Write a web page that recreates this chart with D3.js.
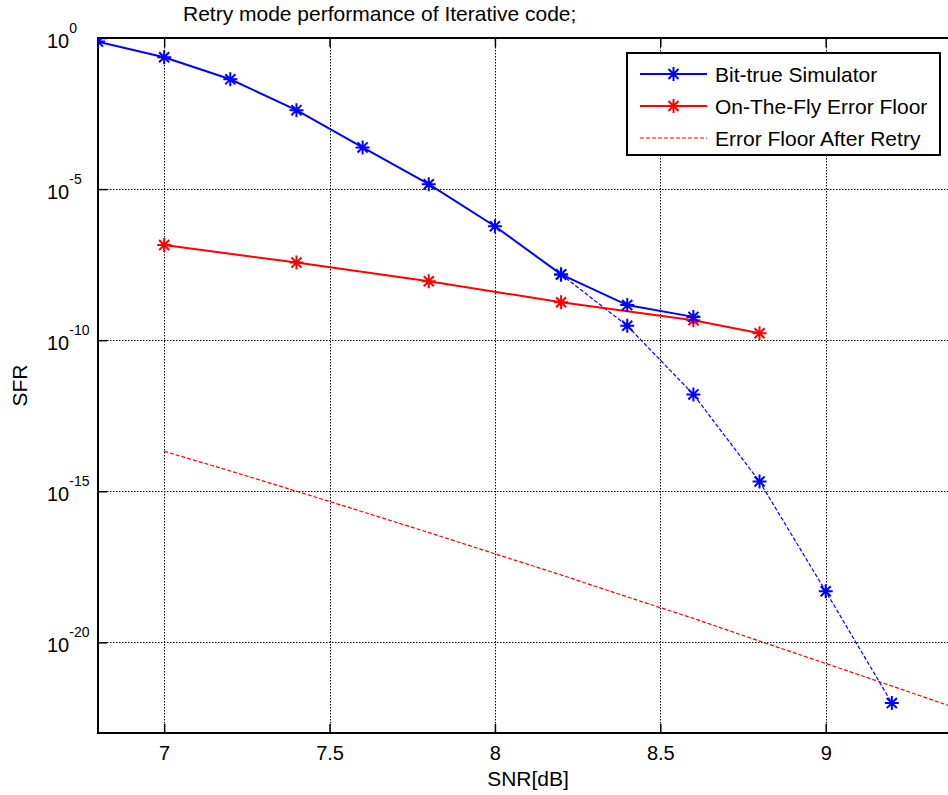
<!DOCTYPE html>
<html>
<head>
<meta charset="utf-8">
<script src="https://cdn.jsdelivr.net/npm/d3@7/dist/d3.min.js"></script>
<style>
  body { margin: 0; background: #fff; }
  svg { display: block; font-family: "Liberation Sans", Arial, sans-serif; }
</style>
</head>
<body>
<svg id="chart" width="948" height="795"></svg>
<script>
// ---- data ----
const bitTrueX = [6.8, 7.0, 7.2, 7.4, 7.6, 7.8, 8.0, 8.2, 8.4, 8.6];
const bitTrueY = [0.76, 0.23, 0.043, 4.1e-3, 2.4e-4, 1.45e-5, 5.9e-7, 1.5e-8, 1.45e-9, 5.9e-10];

const bitTrueExtX = [8.2, 8.4, 8.6, 8.8, 9.0, 9.2];
const bitTrueExtY = [1.5e-8, 3.0e-10, 1.6e-12, 2.1e-15, 4.9e-19, 9.8e-23];

const otfX = [7.0, 7.4, 7.8, 8.2, 8.6, 8.8];
const otfY = [1.4e-7, 3.7e-8, 8.9e-9, 1.8e-9, 4.6e-10, 1.7e-10];

const retryX = [7.0, 7.2, 7.4, 7.6, 7.8, 8.0, 8.2, 8.4, 8.6, 8.8, 9.0, 9.2, 9.4];
const retryY = [2.1e-14, 4.7e-15, 1.0e-15, 2.1e-16, 4.3e-17, 8.5e-18, 1.7e-18, 3.2e-19, 6.2e-20, 1.1e-20, 2.0e-21, 3.6e-22, 6.3e-23];

const xTicks = [7, 7.5, 8, 8.5, 9];
const yTickExps = [0, -5, -10, -15, -20];
const legendLabels = ["Bit-true Simulator", "On-The-Fly Error Floor", "Error Floor After Retry"];
const titleText = "Retry mode performance of Iterative code;";
const xLabel = "SNR[dB]";
const yLabel = "SFR";

// ---- layout ----
const L = 98, R = 958, T = 38, B = 733;
const svg = d3.select("#chart");
const x = d3.scaleLinear().domain([6.8, 9.4]).range([L, R]);
const y = d3.scaleLog().domain([1e-23, 1]).range([B, T]);

// clip
svg.append("defs").append("clipPath").attr("id", "clip")
  .append("rect").attr("x", L).attr("y", T).attr("width", R - L).attr("height", B - T);

// grid
const grid = svg.append("g").attr("stroke", "#000").attr("stroke-width", 1).attr("stroke-dasharray", "1.5,1.5");
grid.selectAll("line.vx").data(xTicks).join("line")
  .attr("x1", d => Math.round(x(d)) + 0.5).attr("x2", d => Math.round(x(d)) + 0.5)
  .attr("y1", T).attr("y2", B);
grid.selectAll("line.hy").data(yTickExps).join("line")
  .attr("y1", d => Math.round(y(Math.pow(10, d))) + 0.5).attr("y2", d => Math.round(y(Math.pow(10, d))) + 0.5)
  .attr("x1", L).attr("x2", R);

// axes via d3
const xAxisB = d3.axisBottom(x).tickValues(xTicks).tickSize(-9).tickFormat(d => d3.format("")(d)).tickPadding(0);
const gxb = svg.append("g").attr("transform", `translate(0,${B})`).call(xAxisB);
gxb.select(".domain").remove();
gxb.selectAll(".tick line").attr("stroke", "#000").attr("stroke-width", 1.5);
gxb.selectAll(".tick text").attr("font-size", 20).attr("fill", "#000").attr("y", 27).attr("dy", 0);

const xAxisT = d3.axisTop(x).tickValues(xTicks).tickSize(-9).tickFormat("");
const gxt = svg.append("g").attr("transform", `translate(0,${T})`).call(xAxisT);
gxt.select(".domain").remove();
gxt.selectAll(".tick line").attr("stroke", "#000").attr("stroke-width", 1.5);

const yAxis = d3.axisLeft(y).tickValues(yTickExps.map(e => Math.pow(10, e))).tickSize(-9).tickFormat("");
const gy = svg.append("g").attr("transform", `translate(${L},0)`).call(yAxis);
gy.select(".domain").remove();
gy.selectAll(".tick line").attr("stroke", "#000").attr("stroke-width", 1.5);

// y tick labels 10^n
const yl = svg.append("g").attr("font-size", 20).attr("fill", "#000");
yTickExps.forEach(e => {
  const yy = y(Math.pow(10, e));
  const t = yl.append("text").attr("x", 47).attr("y", yy + 10);
  t.append("tspan").text("10");
  t.append("tspan").attr("font-size", 14).attr("dy", -15).text(String(e));
});

// frame lines (left, bottom, top)
const frame = svg.append("g").attr("stroke", "#000").attr("stroke-width", 2).attr("fill", "none");
frame.append("line").attr("x1", L).attr("x2", L).attr("y1", T - 1).attr("y2", B + 1);
frame.append("line").attr("x1", L - 1).attr("x2", R).attr("y1", B).attr("y2", B);
frame.append("line").attr("x1", L - 1).attr("x2", R).attr("y1", T).attr("y2", T);

// series
const line = d3.line().x(d => x(d[0])).y(d => y(d[1]));
const plot = svg.append("g").attr("clip-path", "url(#clip)");
const zip = (a, b) => a.map((v, i) => [v, b[i]]);

function starPath(cx, cy, r) {
  const d = r * 0.72;
  return `M${cx - r},${cy}L${cx + r},${cy}M${cx},${cy - r}L${cx},${cy + r}` +
    `M${cx - d},${cy - d}L${cx + d},${cy + d}M${cx - d},${cy + d}L${cx + d},${cy - d}`;
}
function asterisk(g, pts, color, r) {
  const s = g.append("g").attr("stroke", color).attr("stroke-width", 2);
  pts.forEach(p => s.append("path").attr("d", starPath(x(p[0]), y(p[1]), r)));
}

plot.append("path").datum(zip(retryX, retryY)).attr("d", line)
  .attr("fill", "none").attr("stroke", "#ff0000").attr("stroke-width", 1.2).attr("stroke-dasharray", "4,2");

plot.append("path").datum(zip(bitTrueExtX, bitTrueExtY)).attr("d", line)
  .attr("fill", "none").attr("stroke", "#0000ff").attr("stroke-width", 1.2).attr("stroke-dasharray", "4,2");
asterisk(plot, zip(bitTrueExtX, bitTrueExtY), "#0000ff", 7);

plot.append("path").datum(zip(otfX, otfY)).attr("d", line)
  .attr("fill", "none").attr("stroke", "#ff0000").attr("stroke-width", 2);
asterisk(plot, zip(otfX, otfY), "#ff0000", 7);

plot.append("path").datum(zip(bitTrueX, bitTrueY)).attr("d", line)
  .attr("fill", "none").attr("stroke", "#0000ff").attr("stroke-width", 2);
asterisk(plot, zip(bitTrueX, bitTrueY), "#0000ff", 7);

// title and axis labels
svg.append("text").attr("x", 183).attr("y", 21).attr("font-size", 21).attr("fill", "#000").text(titleText);
svg.append("text").attr("x", (L + R) / 2).attr("y", 786).attr("text-anchor", "middle")
  .attr("font-size", 21).attr("fill", "#000").text(xLabel);
svg.append("text").attr("transform", `translate(27,${(T + B) / 2}) rotate(-90)`).attr("text-anchor", "middle")
  .attr("font-size", 21).attr("fill", "#000").text(yLabel);

// legend
const lg = svg.append("g");
lg.append("rect").attr("x", 627).attr("y", 53).attr("width", 313).attr("height", 102)
  .attr("fill", "#fff").attr("stroke", "#000").attr("stroke-width", 2);
const rowsY = [74, 106, 138];
const styles = [
  { c: "#0000ff", w: 2, dash: null, mk: true },
  { c: "#ff0000", w: 2, dash: null, mk: true },
  { c: "#ff0000", w: 1.2, dash: "4,2", mk: false }
];
legendLabels.forEach((lab, i) => {
  const st = styles[i], yy = rowsY[i];
  lg.append("line").attr("x1", 640).attr("x2", 707).attr("y1", yy).attr("y2", yy)
    .attr("stroke", st.c).attr("stroke-width", st.w).attr("stroke-dasharray", st.dash);
  if (st.mk) {
    lg.append("path").attr("stroke", st.c).attr("stroke-width", 2).attr("d", starPath(673.5, yy, 7));
  }
  lg.append("text").attr("x", 715).attr("y", yy + 7.5).attr("font-size", 21).attr("fill", "#000").text(lab);
});
</script>
</body>
</html>
